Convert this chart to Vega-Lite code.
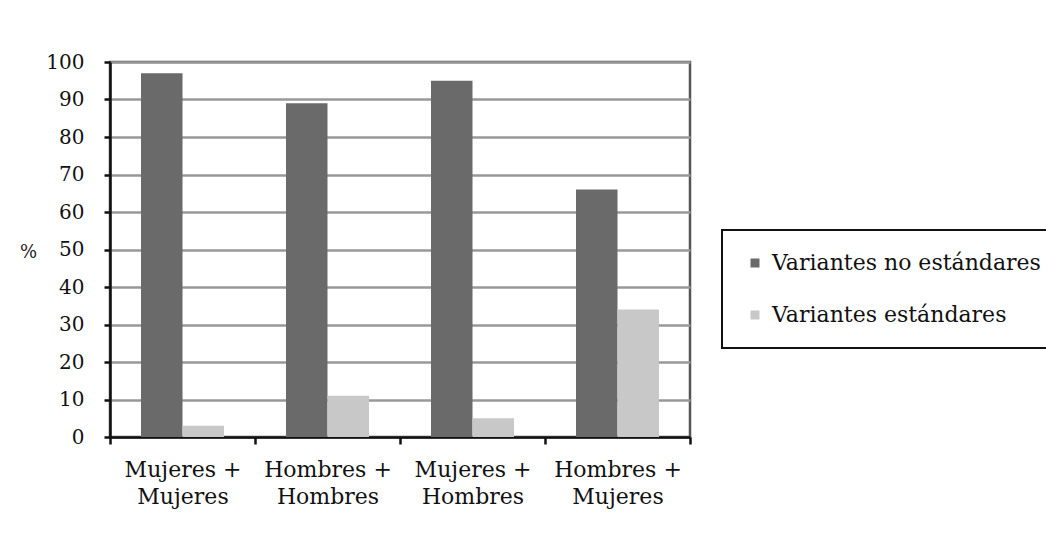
{
  "$schema": "https://vega.github.io/schema/vega-lite/v6.json",
  "autosize": {"type": "none"},
  "width": 580,
  "height": 375,
  "padding": {"left": 110, "top": 62, "right": 356, "bottom": 97},
  "background": "#ffffff",
  "data": {
    "values": [
      {"grupo": "Mujeres +|Mujeres", "serie": "Variantes no estándares", "valor": 97},
      {"grupo": "Mujeres +|Mujeres", "serie": "Variantes estándares", "valor": 3},
      {"grupo": "Hombres +|Hombres", "serie": "Variantes no estándares", "valor": 89},
      {"grupo": "Hombres +|Hombres", "serie": "Variantes estándares", "valor": 11},
      {"grupo": "Mujeres +|Hombres", "serie": "Variantes no estándares", "valor": 95},
      {"grupo": "Mujeres +|Hombres", "serie": "Variantes estándares", "valor": 5},
      {"grupo": "Hombres +|Mujeres", "serie": "Variantes no estándares", "valor": 66},
      {"grupo": "Hombres +|Mujeres", "serie": "Variantes estándares", "valor": 34}
    ]
  },
  "mark": {"type": "bar"},
  "encoding": {
    "x": {
      "field": "grupo",
      "type": "nominal",
      "sort": null,
      "scale": {"paddingInner": 0, "paddingOuter": 0},
      "axis": {
        "title": null,
        "labelAngle": 0,
        "labelExpr": "split(datum.label, '|')",
        "labelLineHeight": 27,
        "labelPadding": 15,
        "labelFont": "DejaVu Serif",
        "labelFontSize": 22,
        "labelColor": "#111111",
        "domainColor": "#111111",
        "domainWidth": 2.5,
        "tickColor": "#111111",
        "tickWidth": 2.5,
        "tickSize": 7,
        "tickBand": "extent"
      }
    },
    "xOffset": {
      "field": "serie",
      "type": "nominal",
      "sort": ["Variantes no estándares", "Variantes estándares"],
      "scale": {"paddingInner": 0, "paddingOuter": 0.747}
    },
    "y": {
      "field": "valor",
      "type": "quantitative",
      "scale": {"domain": [0, 100]},
      "axis": {
        "title": "%",
        "titleAngle": 0,
        "titleX": -82,
        "titleY": 190,
        "titleAlign": "center",
        "titleBaseline": "middle",
        "titleFont": "DejaVu Serif",
        "titleFontSize": 18,
        "titleFontWeight": "normal",
        "titleColor": "#222222",
        "values": [0, 10, 20, 30, 40, 50, 60, 70, 80, 90, 100],
        "labelFont": "DejaVu Serif",
        "labelFontSize": 20,
        "labelColor": "#111111",
        "labelPadding": 20,
        "domainColor": "#111111",
        "domainWidth": 2.5,
        "tickColor": "#111111",
        "tickWidth": 2.5,
        "tickSize": 6,
        "grid": true,
        "gridColor": "#999999",
        "gridWidth": 2.5
      }
    },
    "color": {
      "field": "serie",
      "type": "nominal",
      "sort": ["Variantes no estándares", "Variantes estándares"],
      "scale": {
        "domain": ["Variantes no estándares", "Variantes estándares"],
        "range": ["#6a6a6a", "#c8c8c8"]
      },
      "legend": {
        "title": null,
        "orient": "none",
        "legendX": 612,
        "legendY": 168,
        "symbolType": "square",
        "symbolSize": 81,
        "symbolStrokeWidth": 0,
        "labelFont": "DejaVu Serif",
        "labelFontSize": 22,
        "labelColor": "#111111",
        "labelOffset": 6,
        "labelLimit": 400,
        "rowPadding": 30,
        "padding": 22,
        "strokeColor": "#111111",
        "fillColor": "#ffffff"
      }
    }
  },
  "config": {
    "view": {"stroke": "#555555", "strokeWidth": 2.5},
    "legend": {"strokeWidth": 2}
  }
}
